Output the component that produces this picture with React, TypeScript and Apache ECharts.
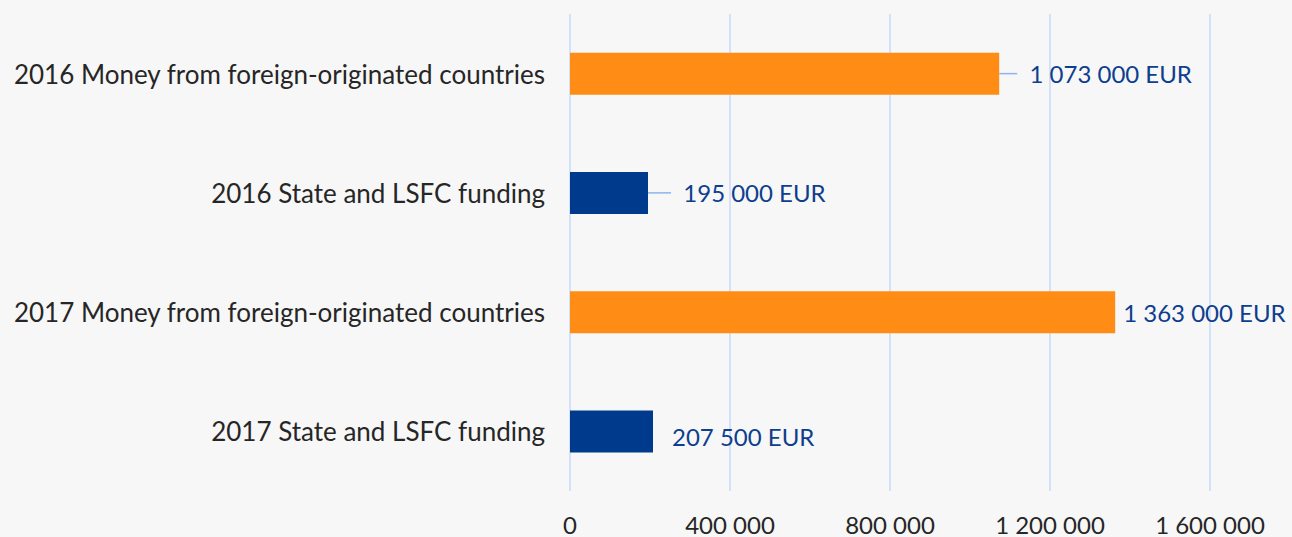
import React, { useEffect, useRef } from "react";
import * as echarts from "echarts";

const categories = [
  "2016 Money from foreign-originated countries",
  "2016 State and LSFC funding",
  "2017 Money from foreign-originated countries",
  "2017 State and LSFC funding",
];
const values = [1073000, 195000, 1363000, 207500];
const barColors = ["#FF8C14", "#003A8C", "#FF8C14", "#003A8C"];
const labelShiftX = [10, 15, 0, 11];
const labelShiftY = [0, 0, 0, 5];
const showLeader = [true, true, false, false];
const axisMax = 1600000;
const axisStep = 400000;

const fmt = (v: number) =>
  String(Math.round(v)).replace(/\B(?=(\d{3})+(?!\d))/g, " ");

const FONT = "Lato, 'Open Sans', sans-serif";

export default function App() {
  const ref = useRef<HTMLDivElement>(null);
  useEffect(() => {
    document.body.style.margin = "0";
    const chart = echarts.init(ref.current!, null, { renderer: "svg" });
    chart.setOption({
      animation: false,
      backgroundColor: "#F7F7F7",
      grid: { left: 570, right: 82, top: 14, bottom: 46, containLabel: false },
      xAxis: {
        type: "value",
        min: 0,
        max: axisMax,
        interval: axisStep,
        axisLine: { show: false },
        axisTick: { show: false },
        splitLine: { show: true, lineStyle: { color: "#D3E2FA", width: 2 } },
        axisLabel: {
          margin: 21,
          color: "#262626",
          fontSize: 24,
          fontFamily: FONT,
          formatter: (v: number) => fmt(v),
        },
      },
      yAxis: {
        type: "category",
        inverse: true,
        data: categories,
        axisLine: { show: false },
        axisTick: { show: false },
        axisLabel: {
          margin: 25,
          color: "#262626",
          fontSize: 26,
          fontFamily: FONT,
        },
      },
      series: [
        {
          type: "bar",
          barWidth: 42,
          data: values.map((v, i) => ({
            value: v,
            itemStyle: { color: barColors[i] },
            labelLine: { show: showLeader[i] },
            label: {
              formatter: (showLeader[i] ? "\u00a0\u00a0" : "") + fmt(v) + " EUR",
            },
          })),
          label: {
            show: true,
            position: "right",
            distance: 8,
            color: "#0E3E8E",
            fontSize: 24,
            fontFamily: FONT,
          },
          labelLine: {
            show: true,
            lineStyle: { color: "#8CB4F0", width: 1.5 },
          },
          labelLayout: (p: any) => ({
            dx: labelShiftX[p.dataIndex],
            dy: labelShiftY[p.dataIndex],
          }),
        },
      ],
    });
    return () => chart.dispose();
  }, []);
  return (
    <div
      ref={ref}
      style={{ position: "fixed", left: 0, top: 0, width: 1292, height: 537 }}
    />
  );
}
